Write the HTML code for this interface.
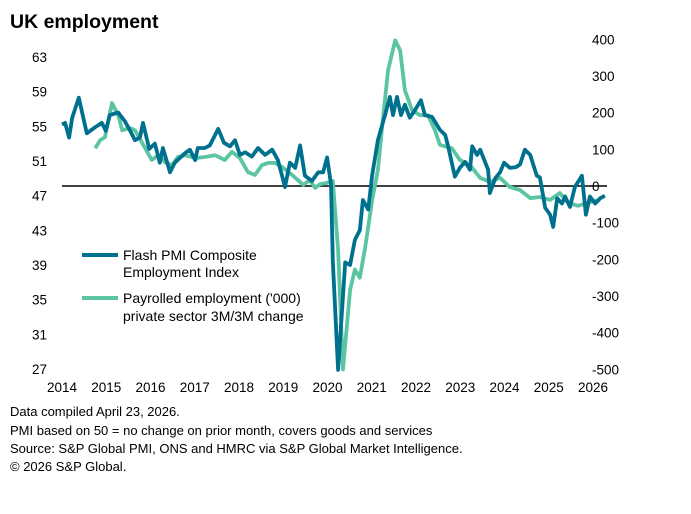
<!DOCTYPE html>
<html><head><meta charset="utf-8"><style>
body{margin:0;background:#fff;font-family:"Liberation Sans",Arial,sans-serif}
svg text{font-family:"Liberation Sans",Arial,sans-serif}
</style></head><body>
<svg id="c" width="691" height="509">
<text x="10" y="28" font-size="19.5" font-weight="bold" fill="#000">UK employment</text>
<g id="axes"></g>
<line x1="62" x2="607" y1="186" y2="186" stroke="#000" stroke-width="1.6"/>
<g id="series"></g>
<g>
<line x1="82" x2="118" y1="255" y2="255" stroke="#00708f" stroke-width="4"/>
<text x="123" y="260" font-size="14">Flash PMI Composite</text>
<text x="123" y="277" font-size="14">Employment Index</text>
<line x1="82" x2="118" y1="298" y2="298" stroke="#5bc4a0" stroke-width="4"/>
<text x="123" y="303" font-size="14">Payrolled employment ('000)</text>
<text x="123" y="321" font-size="14">private sector 3M/3M change</text>
</g>
<g font-size="13" fill="#000">
<text x="10" y="416">Data compiled April 23, 2026.</text>
<text x="10" y="435">PMI based on 50 = no change on prior month, covers goods and services</text>
<text x="10" y="453">Source: S&amp;P Global PMI, ONS and HMRC via S&amp;P Global Market Intelligence.</text>
<text x="10" y="471">© 2026 S&amp;P Global.</text>
</g>
</svg>
<script>
const xYears=[2014,2015,2016,2017,2018,2019,2020,2021,2022,2023,2024,2025,2026];
const leftTicks=[63,59,55,51,47,43,39,35,31,27];
const rightTicks=[400,300,200,100,0,-100,-200,-300,-400,-500];
const pmiDates=[2014.00,2014.07,2014.16,2014.23,2014.38,2014.56,2014.75,2014.84,2014.90,2014.99,2015.08,2015.27,2015.42,2015.54,2015.65,2015.76,2015.83,2015.97,2016.10,2016.21,2016.28,2016.44,2016.55,2016.78,2016.89,2017.01,2017.07,2017.23,2017.34,2017.53,2017.66,2017.80,2017.91,2018.02,2018.14,2018.29,2018.43,2018.59,2018.75,2018.88,2019.04,2019.15,2019.27,2019.38,2019.49,2019.65,2019.79,2019.90,2019.99,2020.08,2020.12,2020.24,2020.40,2020.51,2020.62,2020.73,2020.80,2020.92,2021.01,2021.14,2021.30,2021.41,2021.48,2021.57,2021.66,2021.75,2021.86,2021.98,2022.11,2022.20,2022.36,2022.54,2022.66,2022.72,2022.88,2022.99,2023.11,2023.22,2023.27,2023.38,2023.45,2023.63,2023.67,2023.79,2023.90,2023.99,2024.12,2024.26,2024.35,2024.46,2024.58,2024.73,2024.80,2024.92,2025.03,2025.10,2025.19,2025.30,2025.37,2025.48,2025.59,2025.75,2025.84,2025.93,2026.05,2026.16,2026.27];
const pmiValues=[55.2,55.4,53.7,56.0,58.3,54.2,54.9,55.2,55.4,54.5,56.3,56.6,55.6,54.5,53.4,53.7,55.4,52.4,53.0,50.8,52.5,49.7,50.8,51.9,52.3,51.1,52.5,52.5,52.8,54.7,53.1,52.7,53.4,51.7,52.0,51.5,52.5,51.7,52.3,51.1,48.0,50.8,50.2,52.8,49.3,48.7,49.7,49.7,51.4,48.3,39.5,26.9,39.3,39.0,41.9,43.0,46.5,45.4,49.4,53.4,56.3,58.4,56.3,58.4,56.3,57.5,56.0,56.9,58.0,56.3,56.1,54.6,54.0,52.8,49.2,50.2,50.9,50.0,52.7,51.7,52.3,50.0,47.3,49.0,49.7,50.8,50.2,50.3,50.6,52.3,51.7,49.3,49.1,45.6,44.8,43.4,46.7,46.1,46.9,45.7,48.0,49.3,44.8,46.9,46.1,46.7,47.0];
const payDates=[2014.75,2014.86,2014.97,2015.13,2015.27,2015.36,2015.54,2015.65,2015.88,2016.03,2016.17,2016.33,2016.49,2016.62,2016.78,2017.01,2017.23,2017.46,2017.68,2017.84,2018.02,2018.20,2018.36,2018.52,2018.66,2018.81,2018.97,2019.20,2019.33,2019.45,2019.60,2019.72,2019.83,2019.97,2020.12,2020.24,2020.35,2020.51,2020.62,2020.73,2020.85,2021.01,2021.14,2021.25,2021.37,2021.53,2021.64,2021.75,2021.91,2022.09,2022.27,2022.43,2022.54,2022.81,2022.99,2023.22,2023.45,2023.67,2023.90,2024.12,2024.35,2024.58,2024.80,2025.03,2025.25,2025.44,2025.66,2025.93,2026.16];
const payValues=[103,125,133,226,193,152,158,152,103,71,84,65,57,79,84,76,79,84,71,93,76,38,30,57,63,63,52,30,16,3,16,-5,5,8,14,-174,-500,-283,-228,-250,-169,-38,44,180,316,397,370,261,207,193,193,152,112,103,71,57,22,11,22,-3,-11,-33,-30,-38,-19,-46,-54,-44,-38];
const xs=y=>62+(y-2014)*44.25;
const yl=v=>57+(63-v)*(312/36);
const yr=v=>186-v*0.3667;
const NS="http://www.w3.org/2000/svg";
const ax=document.getElementById('axes'), se=document.getElementById('series');
function t(x,y,s,a,nm){const e=document.createElementNS(NS,'text');e.setAttribute('x',x);e.setAttribute('y',y);e.setAttribute('font-size','13.5');e.setAttribute('text-anchor',a);e.textContent=s;


ax.appendChild(e);}
xYears.forEach(y=>t(xs(y),392,String(y),'middle','x-tick-label'));
leftTicks.forEach(v=>t(47,yl(v)+5,String(v),'end','left-y-tick-label'));
rightTicks.forEach(v=>t(592,yr(v)+5,String(v),'start','right-y-tick-label'));
function line(d,v,f,col,nm){const p=document.createElementNS(NS,'path');
p.setAttribute('d',d.map((x,i)=>(i?'L':'M')+xs(x).toFixed(1)+','+f(v[i]).toFixed(1)).join(''));
p.setAttribute('fill','none');p.setAttribute('stroke',col);p.setAttribute('stroke-width','3.8');p.setAttribute('stroke-linejoin','round');


se.appendChild(p);}
line(payDates,payValues,yr,'#5bc4a0','payroll-line');
line(pmiDates,pmiValues,yl,'#00708f','pmi-line');
</script>
</body></html>
